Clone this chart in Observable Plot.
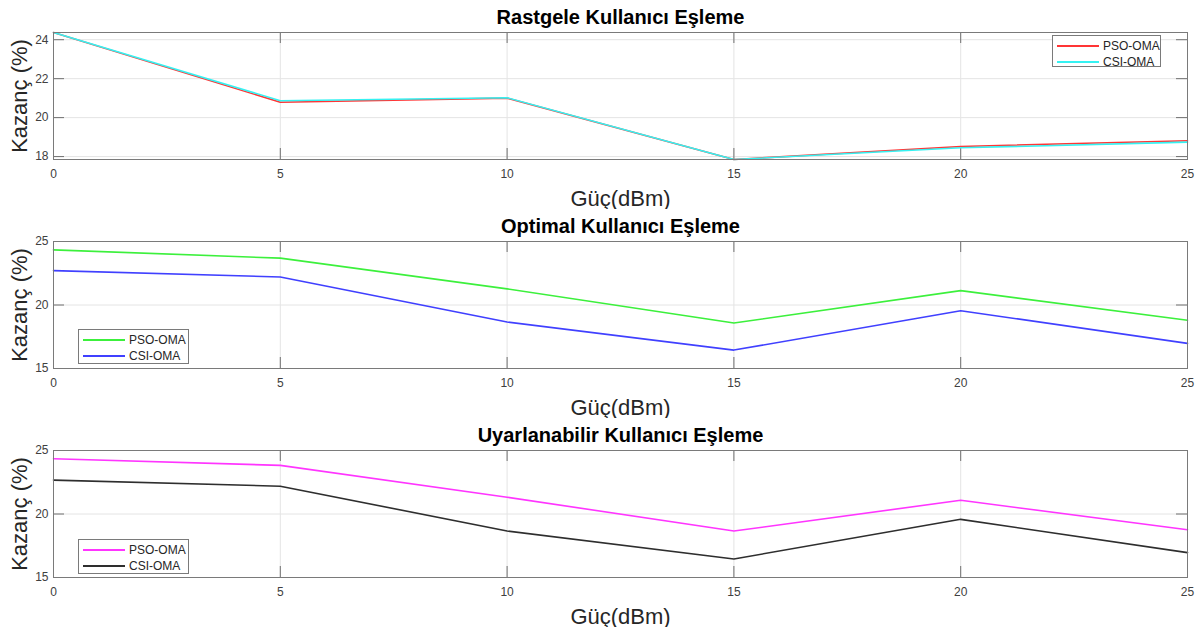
<!DOCTYPE html>
<html><head><meta charset="utf-8">
<script src="https://cdn.jsdelivr.net/npm/d3@7"></script>
<script src="https://cdn.jsdelivr.net/npm/@observablehq/plot@0.6"></script>
<style>
body{margin:0;background:#fff;font-family:"Liberation Sans",Arial,Helvetica,sans-serif;}
.panel{position:relative;width:1200px;height:209px;}
.legend{position:absolute;border:1px solid #7a7a7a;background:#fff;box-sizing:border-box;padding-top:2px;}
.row{display:flex;align-items:center;height:16px;font-size:12px;color:#262626;white-space:nowrap;}
.swatch{width:42px;height:0;border-top:2px solid;margin:0 4px 0 4px;}
</style></head><body><div id="chart"></div>
<script>
const power = [0, 5, 10, 15, 20, 25];
const xTicks = [0, 5, 10, 15, 20, 25];
const seriesNames = ["PSO-OMA", "CSI-OMA"];

const rastgelePSO = [24.37, 20.79, 21.0, 17.85, 18.52, 18.81];
const rastgeleCSI = [24.37, 20.87, 21.02, 17.85, 18.45, 18.74];
const optimalPSO = [24.34, 23.69, 21.27, 18.58, 21.13, 18.8];
const optimalCSI = [22.71, 22.21, 18.66, 16.45, 19.55, 16.98];
const uyarlanabilirPSO = [24.35, 23.83, 21.32, 18.66, 21.08, 18.76];
const uyarlanabilirCSI = [22.67, 22.19, 18.66, 16.46, 19.58, 16.96];

const titles = ["Rastgele Kullanıcı Eşleme", "Optimal Kullanıcı Eşleme", "Uyarlanabilir Kullanıcı Eşleme"];
const yTicks1 = [18, 20, 22, 24];
const yTicks23 = [15, 20, 25];
const yDomain1 = [17.85, 24.37];
const yDomain23 = [15, 25];
const xLabel = "Güç(dBm)";
const yLabel = "Kazanç (%)";

const panels = [
  {title: titles[0], yDomain: yDomain1, yTicks: yTicks1, values: [rastgelePSO, rastgeleCSI], colors: ["#ff3535", "#35f2f2"], legend: {left: 1052, top: 35, width: 109, height: 32}},
  {title: titles[1], yDomain: yDomain23, yTicks: yTicks23, values: [optimalPSO, optimalCSI], colors: ["#3cf03c", "#4040ff"], legend: {left: 78, top: 120, width: 111, height: 35}},
  {title: titles[2], yDomain: yDomain23, yTicks: yTicks23, values: [uyarlanabilirPSO, uyarlanabilirCSI], colors: ["#ff35ff", "#2e2e2e"], legend: {left: 78, top: 121, width: 111, height: 35}}
];

const W = 1200, H = 209, ML = 53, MR = 13, MT = 32, MB = 50;
const frameW = W - ML - MR, frameH = H - MT - MB, tickLen = 11;
const font = '"Liberation Sans", Arial, Helvetica, sans-serif';
const chart = document.getElementById("chart");

for (const p of panels) {
  const data = p.values.flatMap((vals, k) => power.map((x, i) => ({x, y: vals[i], name: seriesNames[k]})));
  const svg = Plot.plot({
    width: W, height: H,
    marginLeft: ML, marginRight: MR, marginTop: MT, marginBottom: MB,
    style: {fontFamily: font, fontSize: "12px", color: "#404040", background: "#fff", overflow: "visible"},
    x: {domain: [0, 25]},
    y: {domain: p.yDomain},
    color: {domain: seriesNames, range: p.colors},
    marks: [
      Plot.gridX(xTicks, {stroke: "#e4e4e4", strokeOpacity: 1}),
      Plot.gridY(p.yTicks, {stroke: "#e4e4e4", strokeOpacity: 1}),
      Plot.axisX(xTicks, {anchor: "bottom", tickSize: 0, tickPadding: 10, label: null, fontSize: 12}),
      Plot.axisY(p.yTicks, {anchor: "left", tickSize: 0, tickPadding: 5, label: null, fontSize: 12}),
      Plot.tickX(xTicks, {x: d => d, insetTop: frameH - tickLen, stroke: "#707070"}),
      Plot.tickX(xTicks, {x: d => d, insetBottom: frameH - tickLen, stroke: "#707070"}),
      Plot.tickY(p.yTicks, {y: d => d, insetRight: frameW - tickLen, stroke: "#707070"}),
      Plot.tickY(p.yTicks, {y: d => d, insetLeft: frameW - tickLen, stroke: "#707070"}),
      Plot.lineY(data, {x: "x", y: "y", stroke: "name", strokeWidth: 1.6}),
      Plot.frame({stroke: "#7a7a7a"}),
      Plot.text([p.title], {text: d => d, frameAnchor: "top", textAnchor: "middle", dy: -9, lineAnchor: "bottom", fontWeight: "bold", fontSize: 20, fill: "#000"}),
      Plot.text([xLabel], {text: d => d, frameAnchor: "bottom", textAnchor: "middle", dy: 46, lineAnchor: "bottom", fontSize: 22, fill: "#262626"}),
      Plot.text([yLabel], {text: d => d, frameAnchor: "left", textAnchor: "middle", dx: -27, rotate: -90, lineAnchor: "bottom", fontSize: 22, fill: "#262626"})
    ]
  });
  const div = document.createElement("div");
  div.className = "panel";
  div.appendChild(svg);
  const lg = document.createElement("div");
  lg.className = "legend";
  Object.assign(lg.style, {left: p.legend.left + "px", top: p.legend.top + "px", width: p.legend.width + "px", height: p.legend.height + "px"});
  seriesNames.forEach((n, k) => {
    const row = document.createElement("div");
    row.className = "row";
    const sw = document.createElement("span");
    sw.className = "swatch";
    sw.style.borderTopColor = p.colors[k];
    const t = document.createElement("span");
    t.textContent = n;
    row.appendChild(sw); row.appendChild(t);
    lg.appendChild(row);
  });
  div.appendChild(lg);
  chart.appendChild(div);
}
</script>
</body></html>
